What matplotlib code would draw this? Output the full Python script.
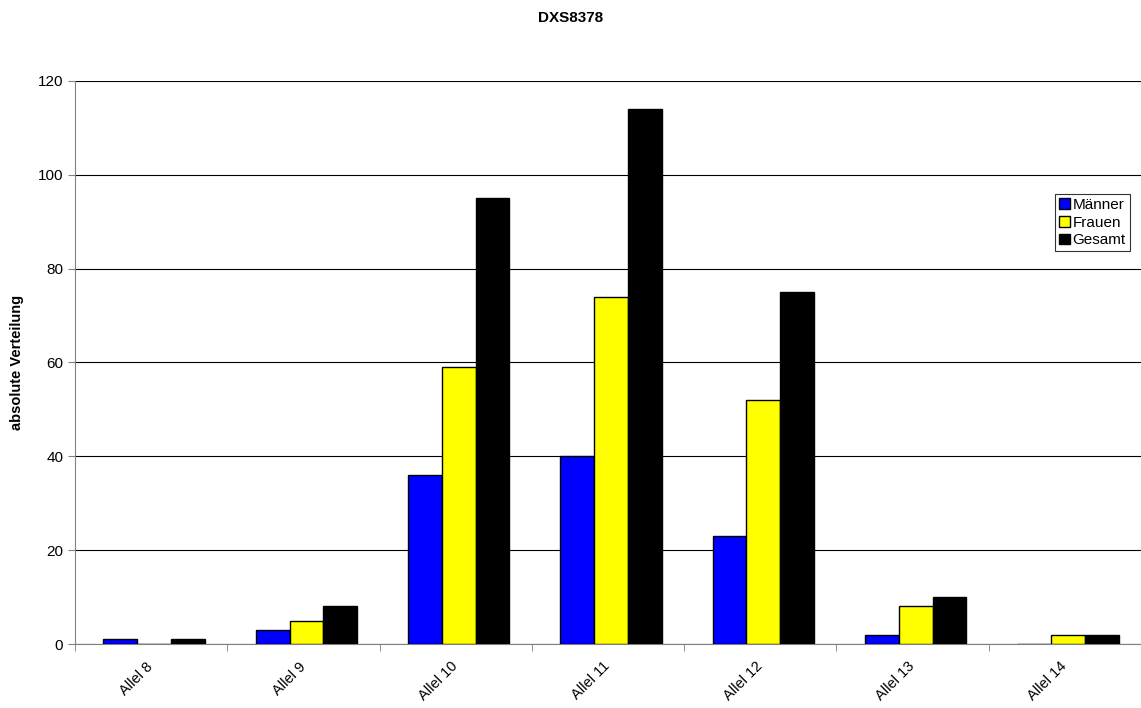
import numpy as np
import matplotlib
matplotlib.use("Agg")
from matplotlib import pyplot as plt
from matplotlib.transforms import ScaledTranslation

alleles = ["Allel 8", "Allel 9", "Allel 10", "Allel 11", "Allel 12", "Allel 13", "Allel 14"]
maenner = [1, 3, 36, 40, 23, 2, 0]
frauen = [0, 5, 59, 74, 52, 8, 2]
gesamt = [1, 8, 95, 114, 75, 10, 2]

plt.rcParams['font.family'] = ['Liberation Sans', 'DejaVu Sans']

fig = plt.figure(figsize=(11.41, 7.08), dpi=100)
ax = fig.add_axes([75/1141, 1-644/708, 1-75/1141, (644-81)/708])

x = np.arange(len(alleles))
w = 0.222
c = x + 0.02
ax.bar(c - w, maenner, w, color="#0000ff", edgecolor="black", linewidth=1, label="Männer", zorder=3)
ax.bar(c, frauen, w, color="#ffff00", edgecolor="black", linewidth=1, label="Frauen", zorder=3)
ax.bar(c + w, gesamt, w, color="black", edgecolor="black", linewidth=1, label="Gesamt", zorder=3)

ax.set_ylim(0, 120)
ax.set_yticks(range(0, 121, 20))
ax.set_xlim(-0.5, -0.5 + (1141-75)/153)
ax.yaxis.grid(True, color="black", linewidth=0.8)
ax.set_axisbelow(True)

ax.set_xticks(x)
ax.set_xticklabels(alleles, rotation=45, ha="right", rotation_mode="anchor", fontsize=10.5)
ax.tick_params(axis="x", length=0, pad=11)
off = ScaledTranslation(-5/100, 0, fig.dpi_scale_trans)
for lab in ax.get_xticklabels():
    lab.set_transform(lab.get_transform() + off)
ax.set_xticks(np.arange(-0.5, len(alleles), 1), minor=True)
ax.tick_params(axis="x", which="minor", length=5, color="#808080")
ax.tick_params(axis="y", labelsize=11, length=5, color="#808080")

for s in ["top", "right"]:
    ax.spines[s].set_visible(False)
ax.spines["left"].set_color("#808080")
ax.spines["bottom"].set_color("#808080")

ax.set_ylabel("absolute Verteilung", fontsize=10.5, fontweight="bold", labelpad=10)
fig.text(0.5, 1-18/708, "DXS8378", ha="center", va="center", fontsize=11, fontweight="bold")

leg = ax.legend(loc="upper left", bbox_to_anchor=((1055-75)/1066, (644-194)/563),
                frameon=True, fancybox=False, fontsize=11, handlelength=0.7, handleheight=0.7,
                handletextpad=0.2, borderpad=0.25, labelspacing=0.25, borderaxespad=0)
leg.get_frame().set_edgecolor("black")
leg.get_frame().set_linewidth(0.8)

fig.savefig("out.png", dpi=100)
